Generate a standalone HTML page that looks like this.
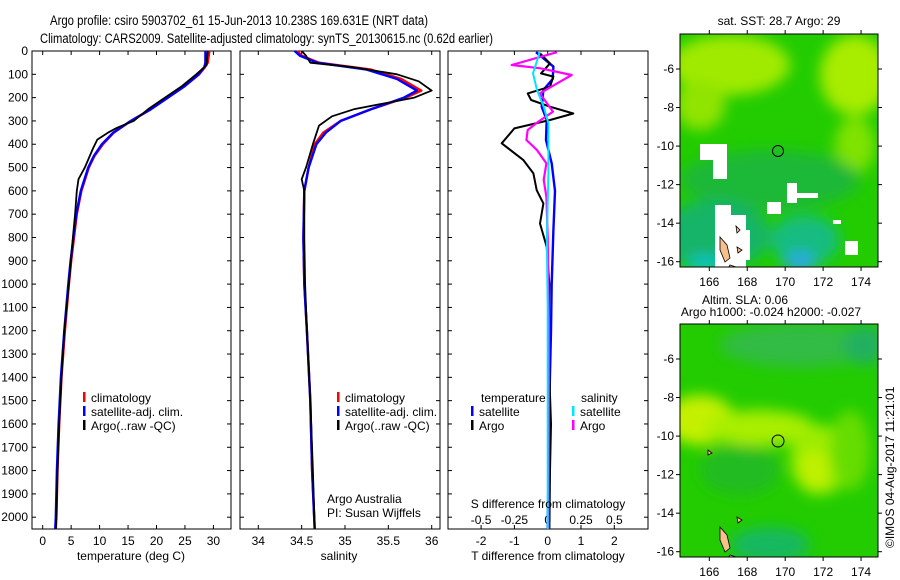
<!DOCTYPE html>
<html><head><meta charset="utf-8"><style>
html,body{margin:0;padding:0;background:#fff;}
svg{display:block;font-family:"Liberation Sans",sans-serif;}
</style></head><body>
<svg id="fig" width="900" height="580" viewBox="0 0 900 580" xmlns="http://www.w3.org/2000/svg">
<defs>
<filter id="bl" x="-20%" y="-20%" width="140%" height="140%"><feGaussianBlur stdDeviation="7"/></filter>
<clipPath id="c1"><rect x="680" y="34" width="198" height="233"/></clipPath>
<clipPath id="c2"><rect x="680" y="324" width="198" height="233"/></clipPath>
</defs>
<text x="50" y="25" font-size="13.5" textLength="378" lengthAdjust="spacingAndGlyphs">Argo profile: csiro 5903702_61 15-Jun-2013 10.238S 169.631E (NRT data)</text>
<text x="40" y="43" font-size="13.5" textLength="453" lengthAdjust="spacingAndGlyphs">Climatology: CARS2009. Satellite-adjusted climatology: synTS_20130615.nc (0.62d earlier)</text>

<!-- SST map -->
<g clip-path="url(#c1)">
<rect x="680" y="34" width="198" height="233" fill="#22cc00"/>
<g filter="url(#bl)">
<ellipse cx="730" cy="65" rx="60" ry="30" fill="#a0ea00"/>
<ellipse cx="855" cy="75" rx="35" ry="40" fill="#a8ec00"/>
<ellipse cx="700" cy="105" rx="25" ry="25" fill="#90e400"/>
<ellipse cx="855" cy="145" rx="20" ry="28" fill="#80e200"/>
<ellipse cx="770" cy="180" rx="90" ry="30" fill="#1ab838"/>
<ellipse cx="715" cy="235" rx="55" ry="35" fill="#14b468"/>
<ellipse cx="805" cy="240" rx="35" ry="25" fill="#18bc80"/>
<ellipse cx="800" cy="262" rx="16" ry="10" fill="#2aa8e8"/>
<ellipse cx="705" cy="264" rx="18" ry="8" fill="#10c4c8"/>
</g>
<g fill="#fff">
<rect x="700" y="144" width="27" height="16"/><rect x="713" y="160" width="14" height="19"/>
<rect x="787" y="183" width="10" height="20"/><rect x="797" y="193" width="21" height="5"/>
<rect x="767" y="202" width="14" height="12"/><rect x="845" y="241" width="13" height="14"/><rect x="833" y="220" width="8" height="4"/>
<rect x="715" y="205" width="16" height="62"/><rect x="731" y="215" width="15" height="52"/><rect x="745" y="230" width="5" height="30"/>
</g>
<g fill="#f7c08a" stroke="#000" stroke-width="0.8">
<path d="M720 237 L727 245 L730 258 L725 262 L720 250Z"/><path d="M737 247 L742 250 L738 253Z"/><path d="M736 226 L740 230 L737 233Z"/><path d="M722 279 L730 265 L736 267 L730 280Z"/>
</g>
</g>
<circle cx="778" cy="151" r="5.5" fill="none" stroke="#000"/>

<!-- SLA map -->
<g clip-path="url(#c2)">
<rect x="680" y="324" width="198" height="233" fill="#22cc00"/>
<g filter="url(#bl)">
<ellipse cx="800" cy="345" rx="80" ry="22" fill="#33bb44"/>
<ellipse cx="865" cy="345" rx="20" ry="20" fill="#20b060"/>
<ellipse cx="700" cy="420" rx="35" ry="25" fill="#c4f000"/>
<ellipse cx="760" cy="428" rx="55" ry="18" fill="#a8ee00"/>
<ellipse cx="820" cy="460" rx="30" ry="35" fill="#9cec00"/>
<ellipse cx="815" cy="470" rx="15" ry="20" fill="#c0f000"/>
<ellipse cx="850" cy="450" rx="20" ry="40" fill="#66dd00"/>
<ellipse cx="740" cy="470" rx="40" ry="25" fill="#22bb22"/>
<ellipse cx="770" cy="545" rx="40" ry="18" fill="#18b860"/>
</g>
<g fill="#f7c08a" stroke="#000" stroke-width="0.8">
<path d="M720 527 L727 535 L730 548 L725 552 L720 540Z"/><path d="M737 517 L742 520 L738 523Z"/><path d="M722 568 L730 555 L736 557 L730 570Z"/><path d="M708 450 L712 453 L708 455Z"/>
</g>
</g>
<circle cx="778" cy="441" r="6" fill="none" stroke="#000"/>

<text x="779" y="25" font-size="12" text-anchor="middle">sat. SST: 28.7 Argo: 29</text>
<text x="745" y="304" font-size="12" text-anchor="middle">Altim. SLA: 0.06</text>
<text x="771" y="316" font-size="12" text-anchor="middle">Argo h1000: -0.024 h2000: -0.027</text>
<text transform="translate(894,548) rotate(-90)" font-size="12">©IMOS 04-Aug-2017 11:21:01</text>
<g id="g"></g>
</svg>
<script>
// ---------- data ----------
const tempClimDepth = [0,50,70,100,150,200,250,300,350,400,450,500,600,700,800,900,1000,1200,1400,1600,1800,2000,2050];
const tempClim = [29.3,29.0,28.5,27.5,25,22,19,15.5,12.5,10.6,9.1,8.1,6.8,6.0,5.5,5.0,4.6,3.9,3.3,2.9,2.6,2.4,2.3];
const tempSat = [28.6,28.6,28.4,27.4,25,22,19,15.5,12.4,10.4,9.0,8.0,6.7,5.9,5.4,4.9,4.5,3.8,3.2,2.8,2.5,2.3,2.2];
const tempArgoDepth = [0,60,100,150,200,250,300,330,350,380,420,500,550,600,700,800,1000,1200,1400,1600,1800,2000,2050];
const tempArgo = [29.0,28.8,27.0,24.5,21.5,18.5,16,13,11.5,9.6,8.8,7.4,6.3,6.0,5.7,5.3,4.6,3.8,3.3,2.9,2.6,2.4,2.3];
const salClimDepth = [0,20,50,80,120,170,200,250,300,350,400,500,600,800,1000,1200,1500,1800,2050];
const salClim = [34.45,34.5,34.7,35.3,35.65,35.88,35.7,35.3,34.95,34.75,34.65,34.58,34.53,34.52,34.53,34.56,34.6,34.62,34.65];
const salSat = [34.42,34.48,34.68,35.25,35.6,35.83,35.68,35.3,34.95,34.78,34.67,34.58,34.53,34.52,34.53,34.56,34.6,34.62,34.65];
const salArgoDepth = [0,20,50,70,100,130,170,200,250,280,320,400,500,550,600,800,1000,1200,1500,1800,2050];
const salArgo = [34.5,34.55,34.6,35.1,35.6,35.85,36.0,35.8,35.1,34.85,34.7,34.63,34.55,34.5,34.53,34.53,34.54,34.56,34.6,34.63,34.65];
const dTArgoDepth = [10,53,96,110,153,182,210,239,268,296,332,396,468,525,597,654,740,840,1000,1200,1400,1600,1800,2050];
const dTArgo = [-0.23,0.07,-0.2,0.17,0.07,-0.6,-0.5,0.07,0.77,0.07,-1.0,-1.38,-0.73,-0.43,-0.33,-0.13,-0.23,-0.03,0.05,0.03,0.05,0.1,0.07,0.05];
const dTSatDepth = [5,67,120,167,239,296,382,482,600,768,1000,1200,1500,2050];
const dTSat = [-0.35,0.17,0.15,-0.13,-0.18,-0.03,-0.05,0.12,0.22,0.17,0.12,0.1,0.05,0.0];
const dSArgoDepth = [5,60,74,103,139,182,260,303,339,382,425,482,553,625,800,1200,2050];
const dSArgo = [0.07,-0.27,-0.06,0.18,0.07,-0.06,0.04,-0.07,-0.15,-0.16,-0.08,-0.01,-0.03,-0.01,0.0,0.01,0.005];
const dSSatDepth = [5,96,167,239,310,525,810,1100,2050];
const dSSat = [-0.06,-0.11,-0.08,-0.03,0.005,0.005,-0.007,0,0];
const depthTicks = [0,100,200,300,400,500,600,700,800,900,1000,1100,1200,1300,1400,1500,1600,1700,1800,1900,2000];
const tempTicks = [0,5,10,15,20,25,30];
const salTicks = [34,34.5,35,35.5,36];
const dTTicks = [-2,-1,0,1,2];
const dSTicks = [-0.5,-0.25,0,0.25,0.5];
const lonTicks = [166,168,170,172,174];
const latTicks = [-6,-8,-10,-12,-14,-16];

// ---------- helpers ----------
const NS='http://www.w3.org/2000/svg';
const G=document.getElementById('g');
function mk(tag,attrs,parent){const e=document.createElementNS(NS,tag);for(const k in attrs)e.setAttribute(k,attrs[k]);(parent||G).appendChild(e);return e;}
const Y0=51, PY=0.2331;
const yD=d=>Y0+d*PY;
const xT=t=>42.7+t*5.69;
const xS=s=>258.3+(s-34)*86.7;
const xDT=t=>547.7+t*33.3;
const xDS=s=>547.7+s*133.3;
const lonX=l=>709.3+(l-166)*18.97;
const latY=(la,off)=>69+off+(-6-la)*19.27;

function line(depths,vals,xf,color,w,name){
  const p=mk('polyline',{points:depths.map((d,i)=>xf(vals[i]).toFixed(1)+','+yD(d).toFixed(1)).join(' '),fill:'none',stroke:color,'stroke-width':w,'stroke-linejoin':'round'});
  
  
}
function text(x,y,s,size,anchor,name){
  const t=mk('text',{x:x,y:y,'font-size':size,'text-anchor':anchor||'start'});t.textContent=s;
  
  
  return t;
}
function frame(x0,x1,name){
  const r=mk('rect',{x:x0,y:Y0,width:x1-x0,height:529-Y0,fill:'none',stroke:'#000','stroke-width':1});
  
  
  depthTicks.forEach(d=>{mk('line',{x1:x0,x2:x0+4,y1:yD(d),y2:yD(d),stroke:'#000'});mk('line',{x1:x1,x2:x1-4,y1:yD(d),y2:yD(d),stroke:'#000'});});
}
function xticks(ticks,xf,labels,name){
  ticks.forEach(t=>{const x=xf(t);mk('line',{x1:x,x2:x,y1:529,y2:525,stroke:'#000'});mk('line',{x1:x,x2:x,y1:Y0,y2:Y0+4,stroke:'#000'});
    if(labels){text(x,545,String(t),12,'middle',name);}});
}

// panel 1 temperature
frame(32,231,'temperature-plot-area');
depthTicks.forEach(d=>{text(28,yD(d)+4,String(d),12,'end','depth-tick-label');});
xticks(tempTicks,xT,true,'temperature-tick-label');
line(tempClimDepth,tempClim,xT,'#ff0000',2.4,'temperature-climatology-line');
line(tempClimDepth,tempSat,xT,'#0000ff',2.4,'temperature-satellite-line');
line(tempArgoDepth,tempArgo,xT,'#000',1.8,'temperature-argo-line');
text(131,560,'temperature (deg C)',12,'middle','temperature-axis-title');
function legend3(x,y,pre){
  [['#ff0000','climatology'],['#0000ff','satellite-adj. clim.'],['#000','Argo(..raw -QC)']].forEach((it,i)=>{
    const r=mk('rect',{x:x,y:y+i*14-10,width:2.5,height:10,fill:it[0]});
    
    
    text(x+8,y+i*14,it[1],12,'start',pre+'-legend-entry');
  });
}
legend3(83,402,'temperature');

// panel 2 salinity
frame(240,440,'salinity-plot-area');
xticks(salTicks,xS,true,'salinity-tick-label');
line(salClimDepth,salClim,xS,'#ff0000',2.4,'salinity-climatology-line');
line(salClimDepth,salSat,xS,'#0000ff',2.4,'salinity-satellite-line');
line(salArgoDepth,salArgo,xS,'#000',1.8,'salinity-argo-line');
text(339,560,'salinity',12,'middle','salinity-axis-title');
legend3(337,402,'salinity');
text(327,503,'Argo Australia',12,'start','institution-label');
text(327,517,'PI: Susan Wijffels',12,'start','pi-label');

// panel 3 differences
frame(448,648,'difference-plot-area');
xticks(dTTicks,xDT,true,'t-difference-tick-label');
dSTicks.forEach(s=>text(xDS(s),524,String(s),12,'middle','s-difference-tick-label'));
line(dTSatDepth,dTSat,xDT,'#0000ff',2.4,'t-diff-satellite-line');
line(dTArgoDepth,dTArgo,xDT,'#000',2,'t-diff-argo-line');
line(dSArgoDepth,dSArgo,xDS,'#ff00ff',2.2,'s-diff-argo-line');
line(dSSatDepth,dSSat,xDS,'#00e5ff',2,'s-diff-satellite-line');
text(548,508,'S difference from climatology',12,'middle','s-difference-axis-title');
text(548,560,'T difference from climatology',12,'middle','t-difference-axis-title');
text(481,402,'temperature',12,'start','diff-legend-temperature-heading');
text(581,402,'salinity',12,'start','diff-legend-salinity-heading');
[['#0000ff','satellite',471,416],['#000','Argo',471,430],['#00e5ff','satellite',572,416],['#ff00ff','Argo',572,430]].forEach(it=>{
  const r=mk('rect',{x:it[2],y:it[3]-10,width:2.5,height:10,fill:it[0]});
  
  
  text(it[2]+8,it[3],it[1],12,'start','diff-legend-entry');
});

// map frames and ticks
[[0,'sst'],[290,'sla']].forEach(([off,nm])=>{
  const r=mk('rect',{x:680,y:34+off,width:198,height:233,fill:'none',stroke:'#000'});
  
  
  lonTicks.forEach(l=>{const x=lonX(l);mk('line',{x1:x,x2:x,y1:267+off,y2:271+off,stroke:'#000'});mk('line',{x1:x,x2:x,y1:34+off,y2:30+off,stroke:'#000'});
    text(x,286+off,String(l),12,'middle',nm+'-lon-tick-label');});
  latTicks.forEach(la=>{const y=latY(la,off);mk('line',{x1:680,x2:676,y1:y,y2:y,stroke:'#000'});mk('line',{x1:878,x2:882,y1:y,y2:y,stroke:'#000'});
    text(674,y+4,String(la),12,'end',nm+'-lat-tick-label');});
});
</script>
</body></html>
